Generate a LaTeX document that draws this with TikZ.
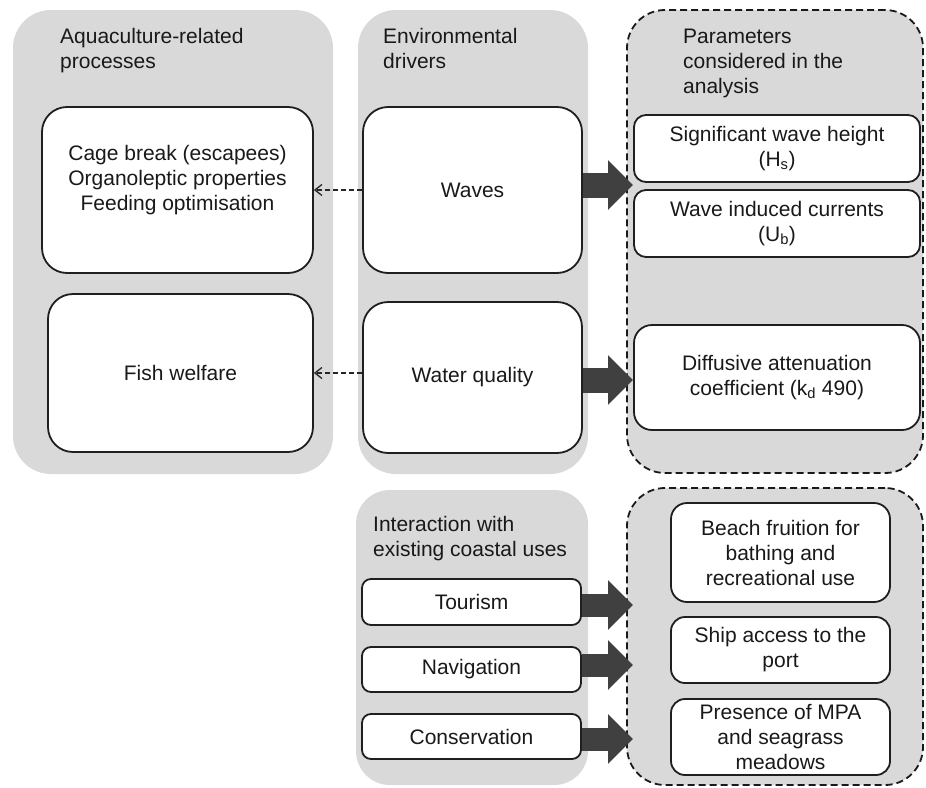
\documentclass[tikz,border=0pt]{standalone}
\usepackage{fontspec}
\setmainfont{Liberation Sans}
\usetikzlibrary{arrows.meta}
\definecolor{panelgrey}{RGB}{217,217,217}
\definecolor{arrowgrey}{RGB}{64,64,64}
\definecolor{txt}{RGB}{25,25,25}
\begin{document}
\begin{tikzpicture}[x=1pt,y=-1pt,
  every node/.style={font=\fontsize{21}{25}\selectfont, text=txt},
  panel/.style={rectangle, fill=panelgrey, draw=none, rounded corners=38pt, inner sep=0pt},
  dpanel/.style={panel, draw=black!90, line width=1.8pt, dash pattern=on 7pt off 4pt},
  box/.style={rectangle, fill=white, draw=black!88, line width=1.8pt, align=center, inner sep=0pt},
  title/.style={align=left, inner sep=0pt},
  bigarrow/.style={draw=arrowgrey, line width=#1, -{Triangle[length=25pt,width=48pt]}},
  bigarrow/.default=25pt,
  darrow/.style={draw=black!85, line width=1.3pt, dash pattern=on 5pt off 3pt, -{Straight Barb[length=7pt,width=11pt]}}
]
\useasboundingbox (0,0) rectangle (926,787);
% panels
\node[panel, minimum width=320pt, minimum height=464pt] (p1) at (173,242) {};
\node[panel, minimum width=230pt, minimum height=464pt] (p2) at (473,242) {};
\node[dpanel, minimum width=296pt, minimum height=463pt] (p3) at (775,241.5) {};
\node[panel, minimum width=232pt, minimum height=295pt, rounded corners=34pt] (p4) at (472,637.5) {};
\node[dpanel, minimum width=296pt, minimum height=297pt] (p5) at (775,636.5) {};
% titles (anchored at the baseline of their last line)
\node[title, anchor=base west] (t1) at (60,68) {Aquaculture-related\\processes};
\node[title, anchor=base west] (t2) at (383,68) {Environmental\\drivers};
\node[title, anchor=base west] (t3) at (683,93) {Parameters\\considered in the\\analysis};
\node[title, anchor=base west] (t4) at (373,556) {Interaction with\\existing coastal uses};
% boxes top
\node[box, rounded corners=25pt, minimum width=271pt, minimum height=166pt] (cage) at (177.5,190)
  {Cage break (escapees)\\Organoleptic properties\\Feeding optimisation\\\mbox{}};
\node[box, rounded corners=25pt, minimum width=265pt, minimum height=158pt] (fish) at (180.5,373) {Fish welfare};
\node[box, rounded corners=25pt, minimum width=219pt, minimum height=166pt] (waves) at (472.5,190) {Waves};
\node[box, rounded corners=25pt, minimum width=219pt, minimum height=151pt] (wq) at (472.5,377.5) {Water quality};
\node[box, rounded corners=12pt, minimum width=286pt, minimum height=67pt] (sig) at (777,148.5) {Significant wave height\\(H\textsubscript{s})};
\node[box, rounded corners=12pt, minimum width=286pt, minimum height=67pt] (wic) at (777,223.5) {Wave induced currents\\(U\textsubscript{b})};
\node[box, rounded corners=18pt, minimum width=286pt, minimum height=105pt] (diff) at (777,377.5) {Diffusive attenuation\\coefficient (k\textsubscript{d} 490)};
% boxes bottom
\node[box, rounded corners=9pt, minimum width=219pt, minimum height=46pt] (tour) at (471.5,602) {Tourism};
\node[box, rounded corners=9pt, minimum width=219pt, minimum height=45pt] (nav) at (471.5,669.5) {Navigation};
\node[box, rounded corners=9pt, minimum width=219pt, minimum height=45pt] (cons) at (471.5,736.5) {Conservation};
\node[box, rounded corners=16pt, minimum width=219pt, minimum height=99pt] (beach) at (780.5,552.5) {Beach fruition for\\bathing and\\recreational use};
\node[box, rounded corners=14pt, minimum width=219pt, minimum height=66pt] (ship) at (780.5,650) {Ship access to the\\port};
\node[box, rounded corners=14pt, minimum width=219pt, minimum height=76pt] (pres) at (780.5,737) {Presence of MPA\\and seagrass\\meadows};
% arrow end points
\coordinate (wtip) at (633,185);
\coordinate (qtip) at (633,380);
\coordinate (ttip) at (633,605);
\coordinate (ntip) at (633,665);
\coordinate (ctip) at (633,739);
% big arrows
\draw[bigarrow] (waves.east |- wtip) -- (wtip);
\draw[bigarrow] (wq.east |- qtip) -- (qtip);
\draw[bigarrow=23pt] (tour.east |- ttip) -- (ttip);
\draw[bigarrow=23pt] (nav.east |- ntip) -- (ntip);
\draw[bigarrow=23pt] (cons.east |- ctip) -- (ctip);
% dashed arrows
\draw[darrow] (waves.west) -- (cage.east);
\draw[darrow] (wq.west |- fish.east) -- (fish.east);
\end{tikzpicture}
\end{document}
